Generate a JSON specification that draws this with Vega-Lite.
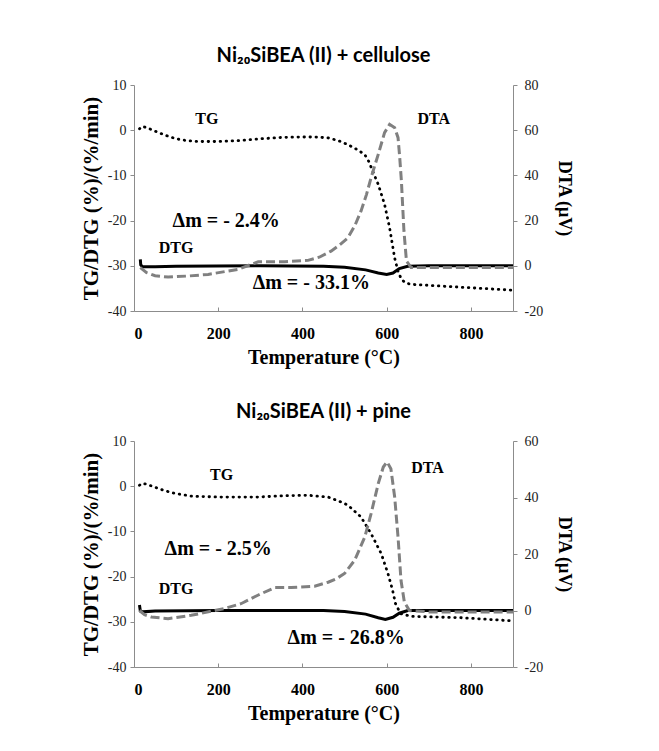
{
  "$schema": "https://vega.github.io/schema/vega-lite/v6.json",
  "padding": {"left": 80, "top": 46, "right": 10, "bottom": 10},
  "background": "white",
  "spacing": 35,
  "config": {
    "view": {"stroke": null},
    "axis": {"grid": false, "domainColor": "#8c8c8c", "tickColor": "#8c8c8c", "labelFont": "Liberation Serif", "labelColor": "#222222", "titleFont": "Liberation Serif", "titleColor": "#000000", "titleFontWeight": "bold", "labelExpr": "replace(datum.label, '−', '-')"},
    "title": {"font": "Lato", "fontWeight": "bold", "fontSize": 20, "color": "#000000", "anchor": "middle", "offset": 12}
  },
  "datasets": {
    "c_TG": [
      {"T": 13, "v": 0.3}, {"T": 18, "v": 0.8}, {"T": 25, "v": 0.7}, {"T": 40, "v": 0.2}, {"T": 60, "v": -0.6}, {"T": 80, "v": -1.3}, {"T": 100, "v": -1.9}, {"T": 125, "v": -2.3}, {"T": 150, "v": -2.5}, {"T": 200, "v": -2.5}, {"T": 250, "v": -2.3}, {"T": 300, "v": -1.9}, {"T": 350, "v": -1.6}, {"T": 400, "v": -1.5}, {"T": 430, "v": -1.5}, {"T": 461, "v": -1.7}, {"T": 485, "v": -2.3}, {"T": 508, "v": -3.2}, {"T": 530, "v": -4.3}, {"T": 548, "v": -5.4}, {"T": 558, "v": -7.0}, {"T": 567, "v": -9.1}, {"T": 580, "v": -12.0}, {"T": 595, "v": -16.4}, {"T": 607, "v": -21.6}, {"T": 619, "v": -28.3}, {"T": 627, "v": -31.2}, {"T": 635, "v": -33.0}, {"T": 645, "v": -33.8}, {"T": 658, "v": -34.1}, {"T": 750, "v": -34.6}, {"T": 900, "v": -35.4}
    ],
    "c_DTG": [
      {"T": 15, "v": -28.6}, {"T": 16, "v": -29.8}, {"T": 20, "v": -30.2}, {"T": 50, "v": -30.2}, {"T": 100, "v": -30.1}, {"T": 300, "v": -30.0}, {"T": 450, "v": -30.1}, {"T": 500, "v": -30.3}, {"T": 550, "v": -30.9}, {"T": 580, "v": -31.6}, {"T": 600, "v": -31.9}, {"T": 615, "v": -31.6}, {"T": 630, "v": -30.6}, {"T": 650, "v": -30.1}, {"T": 700, "v": -30.0}, {"T": 900, "v": -30.0}
    ],
    "c_DTA": [
      {"T": 15, "v": -0.8}, {"T": 30, "v": -3.0}, {"T": 50, "v": -4.4}, {"T": 81, "v": -5.0}, {"T": 130, "v": -4.5}, {"T": 176, "v": -3.8}, {"T": 247, "v": -1.6}, {"T": 295, "v": 1.8}, {"T": 358, "v": 1.8}, {"T": 413, "v": 2.4}, {"T": 440, "v": 3.8}, {"T": 468, "v": 6.5}, {"T": 490, "v": 9.5}, {"T": 508, "v": 12.4}, {"T": 525, "v": 18.0}, {"T": 539, "v": 24.2}, {"T": 552, "v": 31.5}, {"T": 563, "v": 39.0}, {"T": 580, "v": 49.3}, {"T": 595, "v": 58.9}, {"T": 607, "v": 62.6}, {"T": 619, "v": 61.1}, {"T": 627, "v": 56.7}, {"T": 631, "v": 48.0}, {"T": 635, "v": 37.5}, {"T": 641, "v": 15.4}, {"T": 647, "v": 2.1}, {"T": 658, "v": -0.8}, {"T": 900, "v": -0.8}
    ],
    "c_lab": [
      {"T": 173, "v": 2.4, "label": "TG"}, {"T": 712, "v": 2.4, "label": "DTA"}, {"T": 100, "v": -26.1, "label": "DTG"}
    ],
    "c_dm": [
      {"T": 219, "v": -20.1, "label": "Δm = - 2.4%"}, {"T": 421, "v": -33.8, "label": "Δm = - 33.1%"}
    ],
    "p_TG": [
      {"T": 13, "v": 0.2}, {"T": 18, "v": 0.6}, {"T": 28, "v": 0.5}, {"T": 49, "v": -0.2}, {"T": 70, "v": -0.9}, {"T": 97, "v": -1.6}, {"T": 136, "v": -2.2}, {"T": 200, "v": -2.4}, {"T": 294, "v": -2.4}, {"T": 360, "v": -2.1}, {"T": 413, "v": -2.0}, {"T": 461, "v": -2.4}, {"T": 492, "v": -3.5}, {"T": 508, "v": -4.2}, {"T": 539, "v": -6.8}, {"T": 563, "v": -10.5}, {"T": 587, "v": -14.9}, {"T": 603, "v": -19.3}, {"T": 614, "v": -23.0}, {"T": 621, "v": -26.0}, {"T": 633, "v": -28.2}, {"T": 658, "v": -28.8}, {"T": 777, "v": -29.1}, {"T": 900, "v": -29.8}
    ],
    "p_DTG": [
      {"T": 13, "v": -26.3}, {"T": 15, "v": -27.6}, {"T": 20, "v": -27.8}, {"T": 50, "v": -27.6}, {"T": 200, "v": -27.5}, {"T": 450, "v": -27.5}, {"T": 500, "v": -27.7}, {"T": 550, "v": -28.3}, {"T": 580, "v": -29.1}, {"T": 597, "v": -29.5}, {"T": 615, "v": -29.0}, {"T": 630, "v": -28.1}, {"T": 650, "v": -27.5}, {"T": 900, "v": -27.5}
    ],
    "p_DTA": [
      {"T": 13, "v": 0.0}, {"T": 25, "v": -1.5}, {"T": 41, "v": -2.3}, {"T": 81, "v": -2.9}, {"T": 136, "v": -1.7}, {"T": 215, "v": 0.7}, {"T": 254, "v": 2.4}, {"T": 294, "v": 5.4}, {"T": 334, "v": 8.1}, {"T": 373, "v": 8.1}, {"T": 429, "v": 8.6}, {"T": 461, "v": 10.0}, {"T": 480, "v": 11.2}, {"T": 500, "v": 13.1}, {"T": 524, "v": 17.8}, {"T": 548, "v": 26.0}, {"T": 563, "v": 34.3}, {"T": 580, "v": 44.9}, {"T": 592, "v": 50.8}, {"T": 601, "v": 52.6}, {"T": 610, "v": 50.2}, {"T": 619, "v": 40.2}, {"T": 627, "v": 26.0}, {"T": 634, "v": 10.7}, {"T": 642, "v": 3.0}, {"T": 654, "v": 0.0}, {"T": 700, "v": -0.5}, {"T": 900, "v": -0.5}
    ],
    "p_lab": [
      {"T": 208, "v": 2.4, "label": "TG"}, {"T": 697, "v": 4.1, "label": "DTA"}, {"T": 100, "v": -22.7, "label": "DTG"}
    ],
    "p_dm": [
      {"T": 200, "v": -13.8, "label": "Δm = - 2.5%"}, {"T": 504, "v": -33.6, "label": "Δm = - 26.8%"}
    ]
  },
  "vconcat": [
    {
      "title": {"text": "Ni₂₀SiBEA (II) + cellulose"},
      "width": 379,
      "height": 226,
      "resolve": {"scale": {"y": "independent"}},
      "layer": [
        {
          "encoding": {
            "x": {"field": "T", "type": "quantitative", "scale": {"domain": [0, 900], "nice": false}, "axis": {"values": [0, 200, 400, 600, 800], "title": "Temperature (°C)", "titleFontSize": 20, "labelFontSize": 16, "labelFontWeight": "bold", "labelColor": "#000000", "tickSize": -4, "labelPadding": 18, "titlePadding": 6}},
            "y": {"field": "v", "type": "quantitative", "scale": {"domain": [-40, 10], "nice": false}, "axis": {"orient": "left", "values": [-40, -30, -20, -10, 0, 10], "title": "TG/DTG (%)/(%/min)", "titleFontSize": 21, "labelFontSize": 14, "tickSize": 4, "labelPadding": 4, "titlePadding": 6}}
          },
          "layer": [
            {"data": {"name": "c_DTG"}, "mark": {"type": "line", "color": "#000000", "strokeWidth": 3}},
            {"data": {"name": "c_TG"}, "mark": {"type": "line", "color": "#000000", "strokeWidth": 2.8, "strokeCap": "round", "strokeDash": [0.5, 5.5]}},
            {"data": {"name": "c_lab"}, "mark": {"type": "text", "font": "Liberation Serif", "fontWeight": "bold", "fontSize": 16, "color": "#000000"}, "encoding": {"text": {"field": "label"}}},
            {"data": {"name": "c_dm"}, "mark": {"type": "text", "font": "Liberation Serif", "fontWeight": "bold", "fontSize": 20, "color": "#000000"}, "encoding": {"text": {"field": "label"}}}
          ]
        },
        {
          "data": {"name": "c_DTA"},
          "mark": {"type": "line", "color": "#808080", "strokeWidth": 3, "strokeDash": [9, 4]},
          "encoding": {
            "x": {"field": "T", "type": "quantitative"},
            "y": {"field": "v", "type": "quantitative", "scale": {"domain": [-20, 80], "nice": false}, "axis": {"orient": "right", "values": [-20, 0, 20, 40, 60, 80], "title": "DTA (μV)", "titleFontSize": 18, "labelFontSize": 14, "tickSize": 4, "labelPadding": 7, "titlePadding": 12}}
          }
        }
      ]
    },
    {
      "title": {"text": "Ni₂₀SiBEA (II)  + pine"},
      "width": 379,
      "height": 226,
      "resolve": {"scale": {"y": "independent"}},
      "layer": [
        {
          "encoding": {
            "x": {"field": "T", "type": "quantitative", "scale": {"domain": [0, 900], "nice": false}, "axis": {"values": [0, 200, 400, 600, 800], "title": "Temperature (°C)", "titleFontSize": 20, "labelFontSize": 16, "labelFontWeight": "bold", "labelColor": "#000000", "tickSize": -4, "labelPadding": 18, "titlePadding": 6}},
            "y": {"field": "v", "type": "quantitative", "scale": {"domain": [-40, 10], "nice": false}, "axis": {"orient": "left", "values": [-40, -30, -20, -10, 0, 10], "title": "TG/DTG (%)/(%/min)", "titleFontSize": 21, "labelFontSize": 14, "tickSize": 4, "labelPadding": 4, "titlePadding": 6}}
          },
          "layer": [
            {"data": {"name": "p_DTG"}, "mark": {"type": "line", "color": "#000000", "strokeWidth": 3}},
            {"data": {"name": "p_TG"}, "mark": {"type": "line", "color": "#000000", "strokeWidth": 2.8, "strokeCap": "round", "strokeDash": [0.5, 5.5]}},
            {"data": {"name": "p_lab"}, "mark": {"type": "text", "font": "Liberation Serif", "fontWeight": "bold", "fontSize": 16, "color": "#000000"}, "encoding": {"text": {"field": "label"}}},
            {"data": {"name": "p_dm"}, "mark": {"type": "text", "font": "Liberation Serif", "fontWeight": "bold", "fontSize": 20, "color": "#000000"}, "encoding": {"text": {"field": "label"}}}
          ]
        },
        {
          "data": {"name": "p_DTA"},
          "mark": {"type": "line", "color": "#808080", "strokeWidth": 3, "strokeDash": [9, 4]},
          "encoding": {
            "x": {"field": "T", "type": "quantitative"},
            "y": {"field": "v", "type": "quantitative", "scale": {"domain": [-20, 60], "nice": false}, "axis": {"orient": "right", "values": [-20, 0, 20, 40, 60], "title": "DTA (μV)", "titleFontSize": 18, "labelFontSize": 14, "tickSize": 4, "labelPadding": 7, "titlePadding": 12}}
          }
        }
      ]
    }
  ]
}
